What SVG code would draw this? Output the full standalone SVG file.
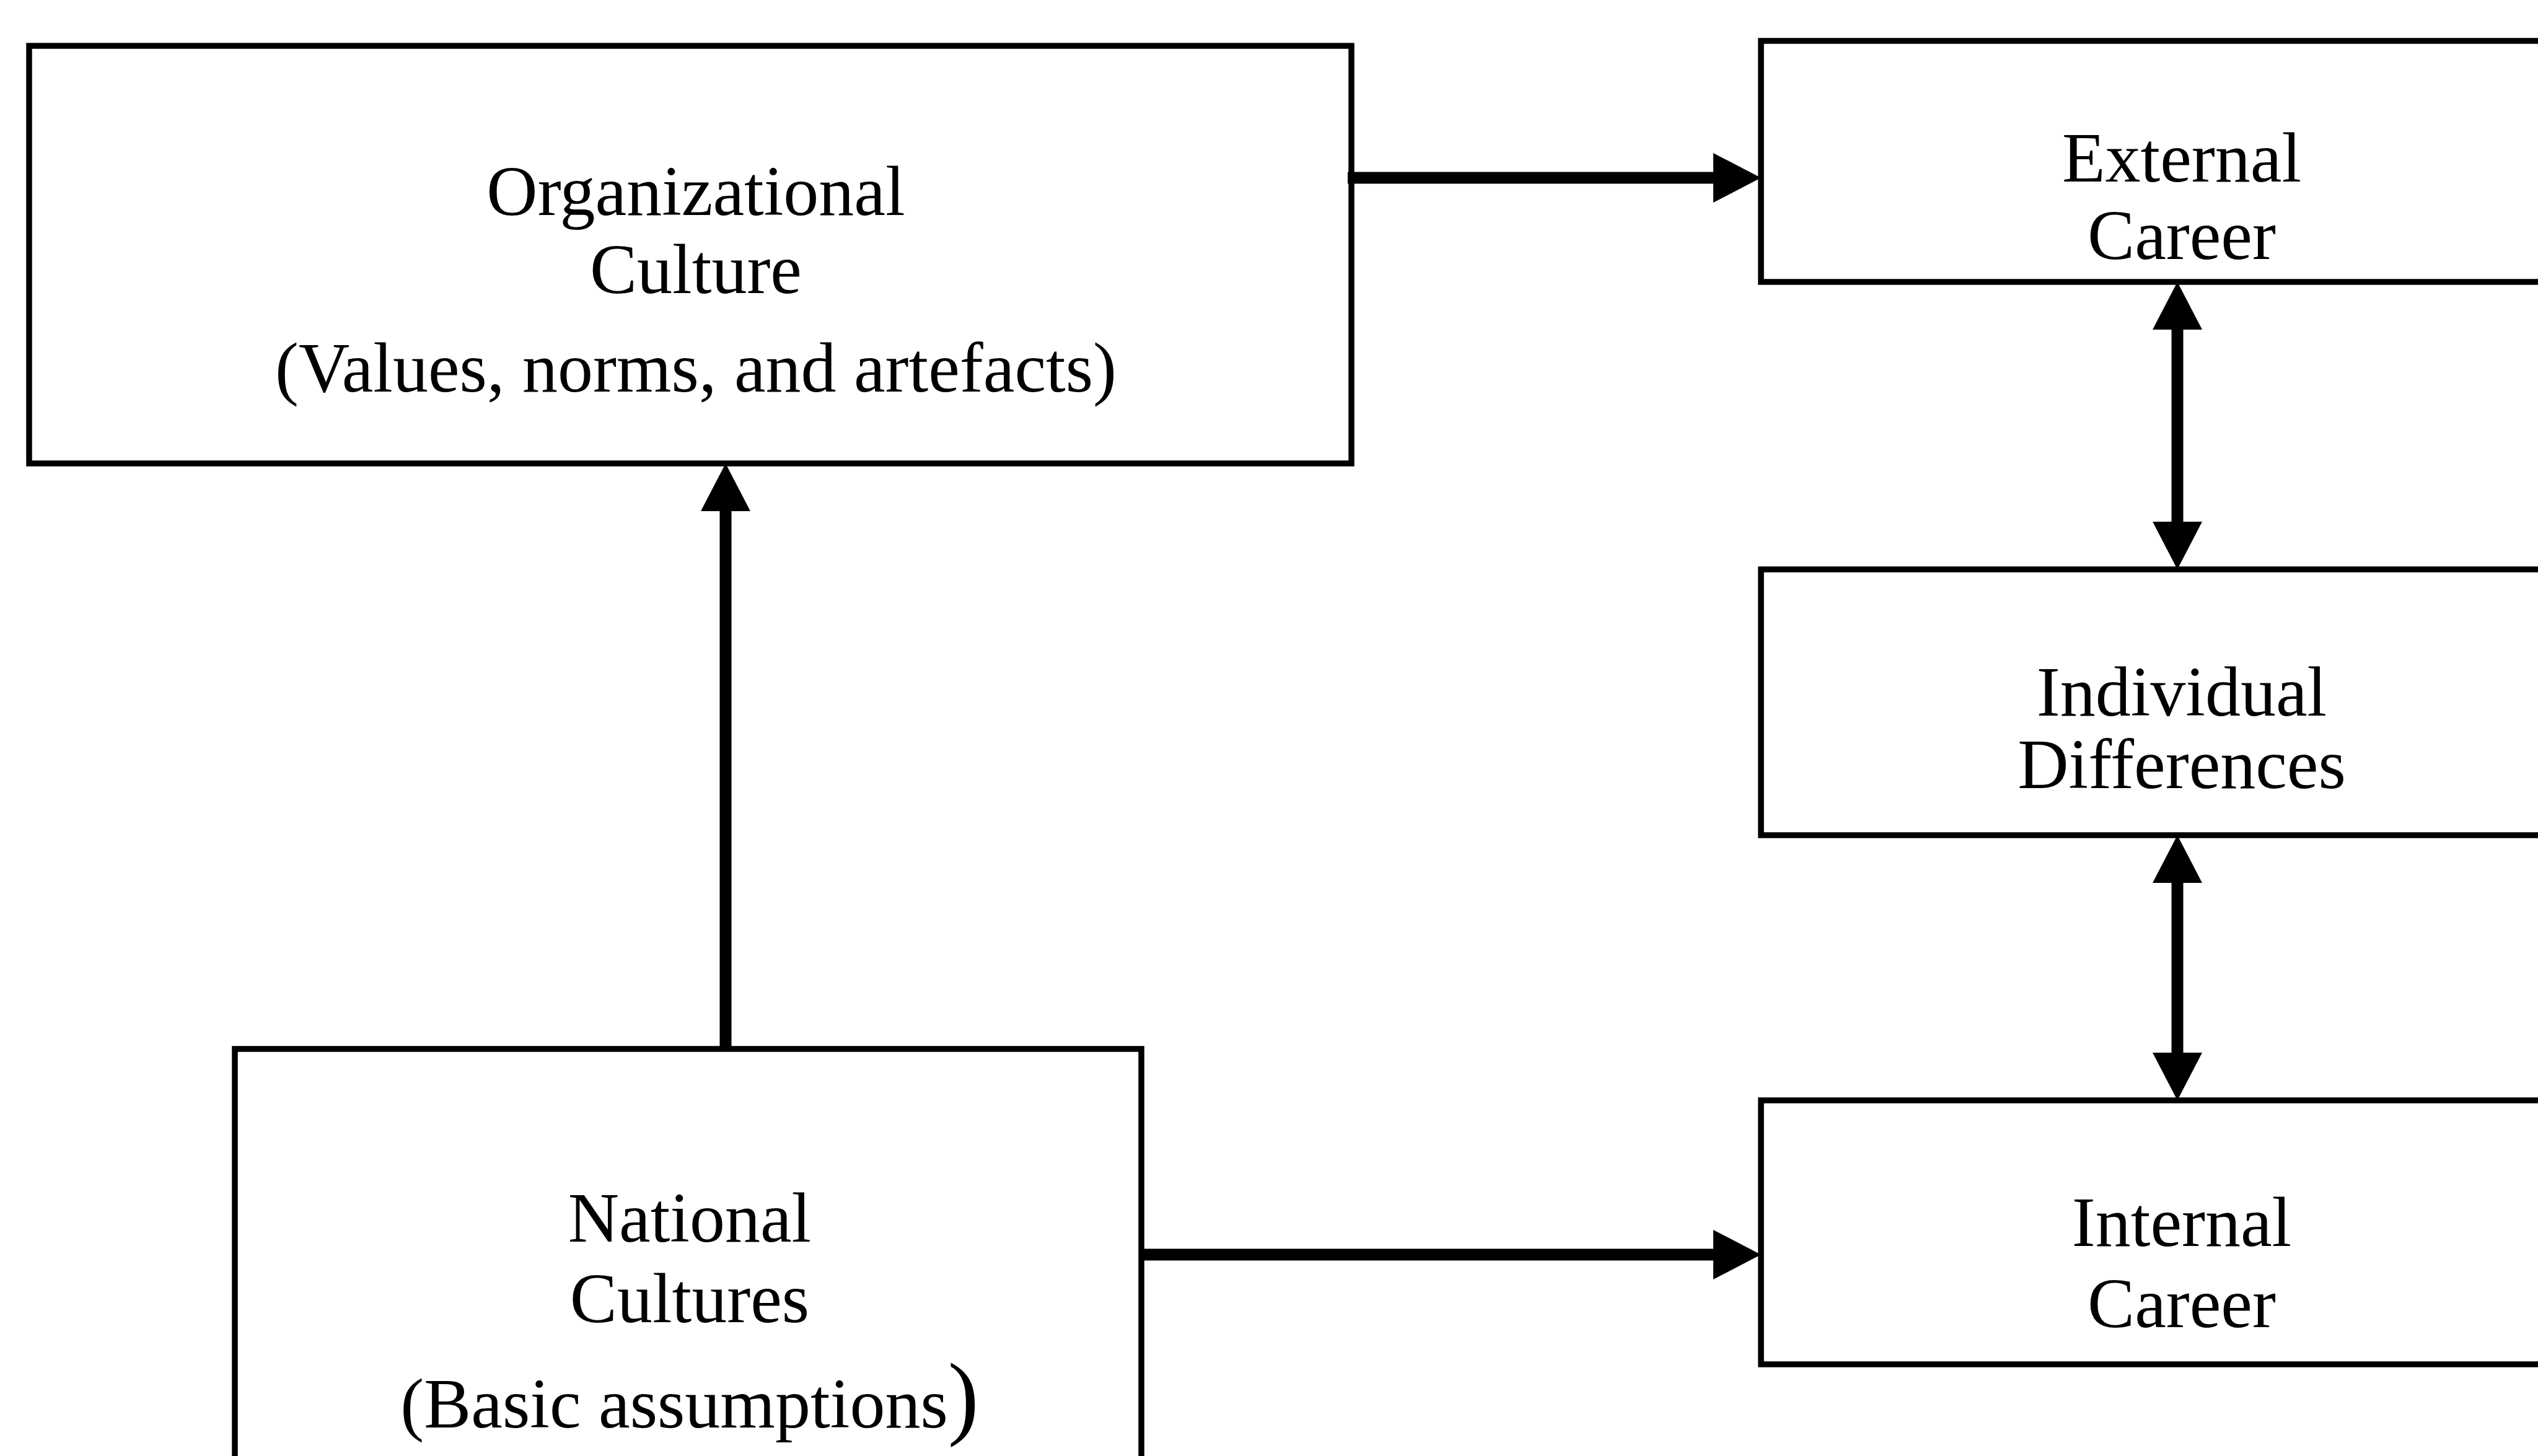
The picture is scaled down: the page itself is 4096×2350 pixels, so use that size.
<svg xmlns="http://www.w3.org/2000/svg" width="4096" height="2350" viewBox="0 0 4096 2350">
<style>
.box{fill:#fff;stroke:#000;stroke-width:9.5}
.lbl{font-family:"Liberation Serif","Times New Roman",serif;font-size:114px;fill:#000;text-anchor:middle}
.ln{stroke:#000;stroke-width:19;fill:none}
.hd{fill:#000;stroke:none}
</style>
<rect width="4096" height="2350" fill="#fff"/>
<g id="org-culture">
<rect class="box" x="47" y="74" width="2134" height="674"/>
<text class="lbl" x="1123" y="347">Organizational</text>
<text class="lbl" x="1123" y="473">Culture</text>
<text class="lbl" x="1123" y="632">(Values, norms, and artefacts)</text>
</g>
<g id="external-career">
<rect class="box" x="2842" y="66" width="1300" height="389"/>
<text class="lbl" x="3521" y="293">External</text>
<text class="lbl" x="3521" y="418">Career</text>
</g>
<g id="individual-differences">
<rect class="box" x="2842" y="919" width="1300" height="429"/>
<text class="lbl" x="3521" y="1155">Individual</text>
<text class="lbl" x="3521" y="1272">Differences</text>
</g>
<g id="internal-career">
<rect class="box" x="2842" y="1776" width="1300" height="426"/>
<text class="lbl" x="3521" y="2011">Internal</text>
<text class="lbl" x="3521" y="2142">Career</text>
</g>
<g id="national-cultures">
<rect class="box" x="379" y="1693" width="1463" height="720"/>
<text class="lbl" x="1113" y="2004">National</text>
<text class="lbl" x="1113" y="2134">Cultures</text>
<text class="lbl" x="1113" y="2304">(Basic assumptions<tspan font-size="150">)</tspan></text>
</g>
<g id="connectors">
<line class="ln" x1="2175" y1="287" x2="2770" y2="287"/>
<polygon class="hd" points="2765,247 2842,287 2765,327"/>
<line class="ln" x1="1171" y1="1693" x2="1171" y2="820"/>
<polygon class="hd" points="1131,825 1171,748 1211,825"/>
<line class="ln" x1="3514" y1="525" x2="3514" y2="849"/>
<polygon class="hd" points="3474,532 3514,455 3554,532"/>
<polygon class="hd" points="3474,842 3514,919 3554,842"/>
<line class="ln" x1="3514" y1="1418" x2="3514" y2="1706"/>
<polygon class="hd" points="3474,1425 3514,1348 3554,1425"/>
<polygon class="hd" points="3474,1699 3514,1776 3554,1699"/>
<line class="ln" x1="1842" y1="2025" x2="2770" y2="2025"/>
<polygon class="hd" points="2765,1985 2842,2025 2765,2065"/>
</g>
</svg>
